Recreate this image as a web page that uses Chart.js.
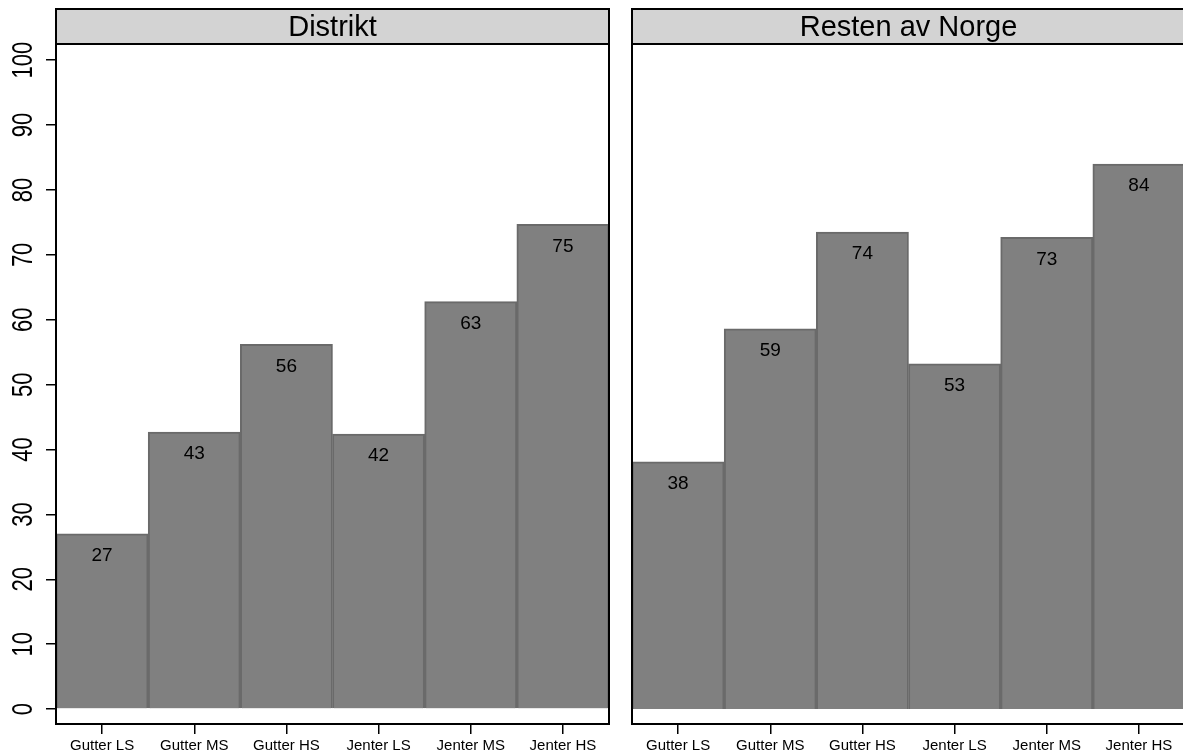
<!DOCTYPE html>
<html>
<head>
<meta charset="utf-8">
<script src="https://cdn.jsdelivr.net/npm/chart.js@4"></script>
<style>
  html, body { margin: 0; padding: 0; background: #fff; overflow: hidden; }
  body { width: 1183px; height: 755px; position: relative; }
  canvas { position: absolute; top: 0; }
</style>
</head>
<body>
<canvas id="left" width="620" height="755" style="left:0"></canvas>
<canvas id="right" width="566" height="755" style="left:620px"></canvas>
<script>
const categories = ["Gutter LS", "Gutter MS", "Gutter HS", "Jenter LS", "Jenter MS", "Jenter HS"];
const distriktValues = [27.0, 42.7, 56.2, 42.4, 62.8, 74.7];
const restenValues = [38.1, 58.6, 73.5, 53.2, 72.7, 84.0];
const yTicks = [0, 10, 20, 30, 40, 50, 60, 70, 80, 90, 100];
const panelTitles = ["Distrikt", "Resten av Norge"];

const FONT = "'Liberation Sans', Arial, sans-serif";

// strip header + panel frame + value labels
const panelPlugin = {
  id: "panel",
  afterDraw(chart, args, opts) {
    const ctx = chart.ctx;
    const a = chart.chartArea;
    ctx.save();
    // header strip
    ctx.fillStyle = "#d3d3d3";
    ctx.fillRect(a.left, 9, a.right - a.left, a.top - 9);
    ctx.strokeStyle = "#000";
    ctx.lineWidth = 2;
    ctx.strokeRect(a.left, 9, a.right - a.left, a.top - 9);
    ctx.fillStyle = "#000";
    ctx.font = "29px " + FONT;
    ctx.textAlign = "center";
    ctx.textBaseline = "middle";
    ctx.fillText(opts.title, (a.left + a.right) / 2, (9 + a.top) / 2 + 1);
    // frame
    ctx.strokeRect(a.left, a.top, a.right - a.left, a.bottom - a.top);
    // bar labels
    ctx.font = "19px " + FONT;
    const meta = chart.getDatasetMeta(0);
    meta.data.forEach((bar, i) => {
      const v = chart.data.datasets[0].data[i];
      ctx.fillText(String(Math.round(v)), bar.x, bar.y + 22);
    });
    // rotated y tick labels
    if (opts.yLabels) {
      const ys = chart.scales.y;
      ctx.font = "22px " + FONT;
      yTicks.forEach(v => {
        ctx.save();
        ctx.translate(24, ys.getPixelForValue(v));
        ctx.rotate(-Math.PI / 2);
        ctx.scale(1, 1.3);
        ctx.fillText(String(v), 0, 0);
        ctx.restore();
      });
    }
    ctx.restore();
  }
};

function makeChart(id, values, title, showY, padLeft, padRight) {
  return new Chart(document.getElementById(id), {
    type: "bar",
    data: {
      labels: categories,
      datasets: [{
        data: values,
        backgroundColor: "#808080",
        borderColor: "#6a6a6a",
        borderWidth: 2,
        borderSkipped: "bottom",
        categoryPercentage: 1,
        barPercentage: 1
      }]
    },
    options: {
      responsive: false,
      animation: false,
      layout: { padding: { top: 44, left: padLeft, right: padRight, bottom: 0 } },
      plugins: {
        legend: { display: false },
        tooltip: { enabled: false },
        panel: { title: title, yLabels: showY }
      },
      scales: {
        x: {
          grid: { drawOnChartArea: false, offset: false, tickLength: 10, color: "#000", lineWidth: 1.5 },
          border: { display: false },
          ticks: { color: "#000", font: { family: FONT, size: 15 }, autoSkip: false, maxRotation: 0, padding: 3 },
          afterFit: s => { s.height = 31; }
        },
        y: {
          display: showY,
          min: -2.3,
          max: 102.5,
          grid: { drawOnChartArea: false, tickLength: 10, color: "#000", lineWidth: 1.5 },
          border: { display: false },
          ticks: { display: false },
          afterBuildTicks: s => { s.ticks = yTicks.map(v => ({ value: v })); },
          afterFit: s => { s.width = showY ? 56 : 0; }
        }
      }
    },
    plugins: [panelPlugin]
  });
}

makeChart("left", distriktValues, panelTitles[0], true, 0, 11);
makeChart("right", restenValues, panelTitles[1], false, 12, 1);
</script>
</body>
</html>
